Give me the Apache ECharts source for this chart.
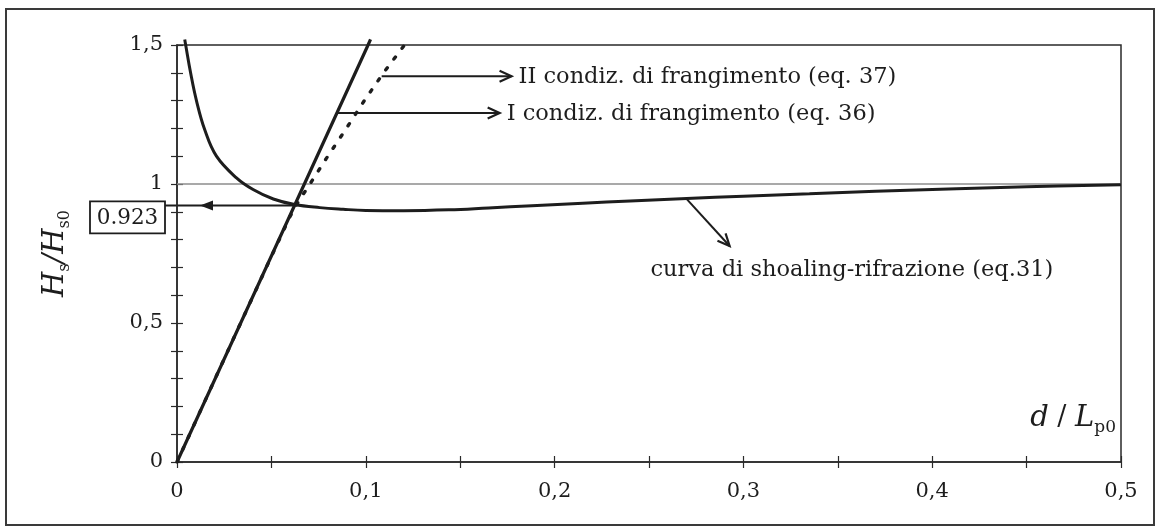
<!DOCTYPE html>
<html><head><meta charset="utf-8">
<script src="https://cdn.jsdelivr.net/npm/echarts@6/dist/echarts.min.js"></script>
<style>html,body{margin:0;padding:0;background:#fff}#c{width:1159px;height:530px}</style>
</head><body><div id="c"></div>
<script>
// ---- data ----
const xLabelValues = [0, 0.1, 0.2, 0.3, 0.4, 0.5];
const xLabelTexts  = ['0', '0,1', '0,2', '0,3', '0,4', '0,5'];
const yLabelValues = [0, 0.5, 1, 1.5];
const yLabelTexts  = ['0', '0,5', '1', '1,5'];

// shoaling-refraction curve (eq.31)
const shoalX = [0.0041, 0.0046, 0.0072, 0.0103, 0.0147, 0.0209, 0.0315, 0.0403, 0.051, 0.0623, 0.0756, 0.088, 0.100, 0.120, 0.144, 0.165, 0.188, 0.215, 0.240, 0.270, 0.300, 0.335, 0.370, 0.413, 0.450, 0.500];
const shoalY = [1.520, 1.500, 1.400, 1.300, 1.195, 1.100, 1.022, 0.980, 0.946, 0.926, 0.915, 0.909, 0.905, 0.904, 0.907, 0.914, 0.922, 0.931, 0.939, 0.948, 0.956, 0.965, 0.974, 0.983, 0.990, 0.997];

// I breaking condition (eq. 36)
const break1X = [0, 0.1012, 0.1025];
const break1Y = [0, 1.500, 1.520];

// II breaking condition (eq. 37)
const break2X = [0, 0.030, 0.050, 0.060, 0.065, 0.0690, 0.0791, 0.0897, 0.0994, 0.1092, 0.1205];
const break2Y = [0, 0.445, 0.740, 0.885, 0.945, 0.985, 1.092, 1.200, 1.302, 1.398, 1.500];

const refY = 1;                     // reference line H/H0 = 1
const intersect = [0.0629, 0.923];
const intersectLabel = '0.923';

const annBreak2 = {from: [0.1084, 1.388], to: [0.1772, 1.388], text: 'II condiz. di frangimento (eq. 37)'};
const annBreak1 = {from: [0.0851, 1.255], to: [0.1709, 1.255], text: 'I condiz. di frangimento (eq. 36)'};
const annShoal  = {from: [0.2694, 0.950], to: [0.2927, 0.777], text: 'curva di shoaling-rifrazione (eq.31)', at: [0.2508, 0.690]};

// ---- chart ----
const FONT = 'DejaVu Serif';
const INK = '#1d1d1d';
const pair = (xs, ys) => xs.map((x, i) => [x, ys[i]]);
const pick = (vals, texts) => v => { const i = vals.findIndex(t => Math.abs(t - v) < 1e-6); return i < 0 ? '' : texts[i]; };

const chart = echarts.init(document.getElementById('c'));
const axisBase = {type: 'value', splitLine: {show: false}};
const option = {
  animation: false,
  backgroundColor: '#fff',
  grid: {left: 177, right: 38, top: 45, bottom: 68, show: true, borderColor: '#2a2a2a', borderWidth: 1.5, backgroundColor: 'transparent'},
  xAxis: [
    Object.assign({}, axisBase, {min: 0, max: 0.5, interval: 0.05,
      axisLine: {onZero: false, lineStyle: {color: '#2a2a2a', width: 1.5}},
      axisTick: {length: 6, lineStyle: {color: '#2a2a2a', width: 1.2}},
      axisLabel: {formatter: pick(xLabelValues, xLabelTexts), margin: 19, fontFamily: FONT, fontSize: 21, color: INK}}),
    Object.assign({}, axisBase, {min: 0, max: 0.5, interval: 0.05, position: 'bottom', offset: 0,
      axisLine: {show: false, onZero: false}, axisTick: {inside: true, length: 6, lineStyle: {color: '#2a2a2a', width: 1.2}},
      axisLabel: {show: false}})
  ],
  yAxis: [
    Object.assign({}, axisBase, {min: 0, max: 1.5, interval: 0.1,
      axisLine: {show: true, onZero: false, lineStyle: {color: '#2a2a2a', width: 1.5}},
      axisTick: {show: true, length: 6, lineStyle: {color: '#2a2a2a', width: 1.2}},
      axisLabel: {formatter: pick(yLabelValues, yLabelTexts), margin: 14, fontFamily: FONT, fontSize: 21, color: INK},
      name: '{i|H}{s|s}{i|/H}{s|s0}', nameLocation: 'middle', nameGap: 104, nameRotate: 90,
      nameTextStyle: {rich: {
        i: {fontFamily: FONT, fontStyle: 'italic', fontSize: 29, color: INK, lineHeight: 36, verticalAlign: 'middle'},
        s: {fontFamily: FONT, fontSize: 16, color: INK, lineHeight: 36, verticalAlign: 'bottom'}
      }}}),
    Object.assign({}, axisBase, {min: 0, max: 1.5, interval: 0.1, position: 'left', offset: 0,
      axisLine: {show: false, onZero: false}, axisTick: {show: true, inside: true, length: 6, lineStyle: {color: '#2a2a2a', width: 1.2}},
      axisLabel: {show: false}})
  ],
  series: [
    {type: 'line', data: [[0, refY], [0.5, refY]], symbol: 'none', lineStyle: {color: '#8c8c8c', width: 1.6}, silent: true},
    {type: 'line', name: 'shoaling', data: pair(shoalX, shoalY), symbol: 'none', smooth: 0.4, clip: false, lineStyle: {color: INK, width: 3}},
    {type: 'line', name: 'I', data: pair(break1X, break1Y), symbol: 'none', clip: false, lineStyle: {color: INK, width: 3.2}},
    {type: 'line', name: 'II', data: pair(break2X, break2Y), symbol: 'none', smooth: false, lineStyle: {color: INK, width: 3.4, type: [2.5, 11], cap: 'round'}}
  ]
};
chart.setOption(option);

// ---- annotations (positions from the chart's scales) ----
const P = (d) => chart.convertToPixel({xAxisIndex: 0, yAxisIndex: 0}, d);
const TXT = '22.5px "' + FONT + '"';
const g = [];
g.push({type: 'rect', shape: {x: 6, y: 9, width: 1148, height: 516}, style: {fill: null, stroke: '#3a3a3a', lineWidth: 2}});

function chevron(a, b, L, w) {
  const dx = b[0] - a[0], dy = b[1] - a[1], n = Math.hypot(dx, dy), ux = dx / n, uy = dy / n;
  const bx = b[0] - L * ux, by = b[1] - L * uy;
  return {type: 'polyline', shape: {points: [[bx - w * uy, by + w * ux], b, [bx + w * uy, by - w * ux]]}, style: {fill: null, stroke: INK, lineWidth: 2.2}};
}
function arrow(ann) {
  const a = P(ann.from), b = P(ann.to);
  g.push({type: 'line', shape: {x1: a[0], y1: a[1], x2: b[0], y2: b[1]}, style: {stroke: INK, lineWidth: 2}});
  g.push(chevron(a, b, 12, 5.5));
}
[annBreak2, annBreak1].forEach(ann => {
  arrow(ann);
  const b = P(ann.to);
  g.push({type: 'text', x: b[0] + 7, y: b[1] + 1, style: {text: ann.text, font: TXT, fill: INK, verticalAlign: 'middle', align: 'left'}});
});
arrow(annShoal);
const t = P(annShoal.at);
g.push({type: 'text', x: t[0], y: t[1], style: {text: annShoal.text, font: TXT, fill: INK, verticalAlign: 'middle', align: 'left'}});

// 0.923 pointer and box
const ip = P(intersect), o = P([0, 0]);
const boxR = o[0] - 12, boxW = 75, boxTop = ip[1] - 4, boxH = 32;
g.push({type: 'line', shape: {x1: ip[0], y1: ip[1], x2: boxR, y2: ip[1]}, style: {stroke: INK, lineWidth: 2}});
const tip = o[0] + 23;
g.push({type: 'polygon', shape: {points: [[tip, ip[1]], [tip + 13, ip[1] - 5], [tip + 13, ip[1] + 5]]}, style: {fill: INK}});
g.push({type: 'rect', shape: {x: boxR - boxW, y: boxTop, width: boxW, height: boxH}, style: {fill: '#fff', stroke: INK, lineWidth: 1.8}});
g.push({type: 'text', x: boxR - boxW / 2, y: boxTop + boxH / 2 + 1, style: {text: intersectLabel, font: '21.5px "' + FONT + '"', fill: INK, align: 'center', verticalAlign: 'middle'}});

// x axis name d/Lp0
const xe = P([0.5, 0]);
g.push({type: 'text', x: xe[0] - 5, y: xe[1] - 26, style: {
  text: '{i|d}{n| / }{i|L}{s|p0}', align: 'right', verticalAlign: 'bottom',
  rich: {
    i: {font: 'italic 29px "' + FONT + '"', fill: INK, lineHeight: 36, verticalAlign: 'middle'},
    n: {font: '27px "' + FONT + '"', fill: INK, lineHeight: 36, verticalAlign: 'middle'},
    s: {font: '17px "' + FONT + '"', fill: INK, lineHeight: 36, verticalAlign: 'bottom'}
  }}});

chart.setOption({graphic: g.map(e => Object.assign({silent: true}, e))});
</script>
</body></html>
